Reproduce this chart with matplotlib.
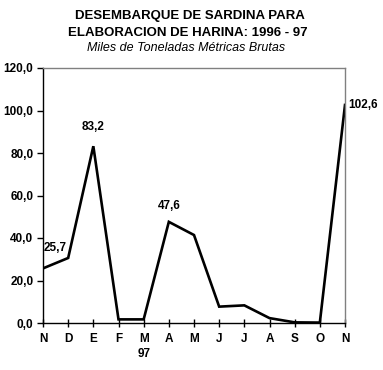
import matplotlib.pyplot as plt

# Monthly landings, Nov 1996 - Nov 1997 (thousand t)
Months = ["N", "D", "E", "F", "M", "A", "M", "J", "J", "A", "S", "O", "N"]
Values = [25.7, 30.6, 83.2, 1.7, 1.7, 47.6, 41.4, 7.7, 8.3, 2.3, 0.3, 0.2, 102.6]
YTicks = [0, 20, 40, 60, 80, 100, 120]

plt.rcParams['font.family'] = ['Liberation Sans', 'DejaVu Sans']
FS = 8.5

fig = plt.figure(figsize=(3.83, 3.70), dpi=100)
ax = fig.add_axes([43/383, 1-323/370, 302/383, 255/370])

x = list(range(len(Months)))
ax.plot(x, Values, color="black", lw=1.9, solid_joinstyle="miter")

def lab(v):
    return ("%.1f" % v).replace(".", ",")

ax.set_xlim(0, len(Months)-1)
ax.set_ylim(0, 120)
ax.set_yticks(YTicks)
ax.set_yticklabels([lab(v) for v in YTicks], fontsize=FS, fontweight="bold")
ax.set_xticks(x)
ax.set_xticklabels(Months, fontsize=FS, fontweight="bold")
ax.tick_params(axis="both", direction="inout", length=6, width=1, pad=4)
ax.tick_params(axis="y", direction="out", length=4, pad=3)

for s in ["left", "bottom"]:
    ax.spines[s].set_color("black")
    ax.spines[s].set_linewidth(1)
for s in ["top", "right"]:
    ax.spines[s].set_color("#808080")
    ax.spines[s].set_linewidth(1)

ax.annotate(lab(Values[0]), (0, Values[0]), xytext=(9, 15), textcoords="offset points",
            ha="center", va="center", fontsize=FS, fontweight="bold")
ax.annotate(lab(Values[2]), (2, Values[2]), xytext=(0, 14), textcoords="offset points",
            ha="center", va="center", fontsize=FS, fontweight="bold")
ax.annotate(lab(Values[5]), (5, Values[5]), xytext=(0, 11.5), textcoords="offset points",
            ha="center", va="center", fontsize=FS, fontweight="bold")
ax.annotate(lab(Values[12]), (12, Values[12]), xytext=(2, 0), textcoords="offset points",
            ha="left", va="center", fontsize=FS, fontweight="bold", annotation_clip=False)

ax.text(4, -14.5, "97", ha="center", va="center", fontsize=FS, fontweight="bold")

fig.text(190/383, 1-16/370, "DESEMBARQUE DE SARDINA PARA", ha="center", va="center",
         fontsize=9.5, fontweight="bold")
fig.text(188/383, 1-33/370, "ELABORACION DE HARINA: 1996 - 97", ha="center", va="center",
         fontsize=9.5, fontweight="bold")
fig.text(186/383, 1-48/370, "Miles de Toneladas Métricas Brutas", ha="center", va="center",
         fontsize=9, style="italic")

fig.savefig("out.png", dpi=100)
